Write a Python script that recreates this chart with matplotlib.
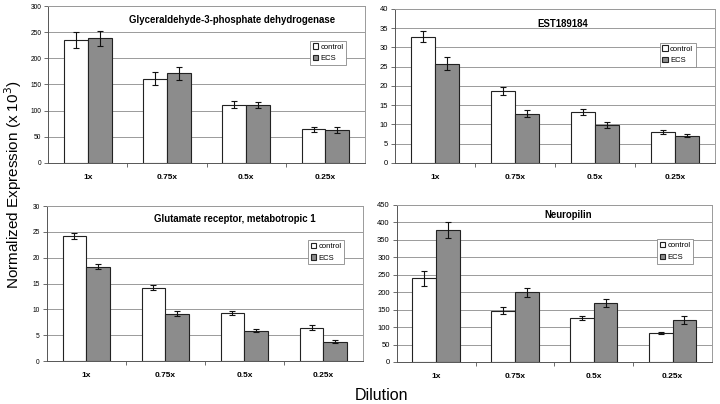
import matplotlib.pyplot as plt
import numpy as np

plt.rcParams['font.family'] = ['Liberation Sans', 'DejaVu Sans']

dilutions = ["1x", "0.75x", "0.5x", "0.25x"]

gapdh_ctrl = [235, 161, 111, 64]
gapdh_ctrl_err = [16, 12, 7, 5]
gapdh_ecs = [238, 171, 111, 63]
gapdh_ecs_err = [15, 12, 6, 5]

est_ctrl = [32.8, 18.6, 13.2, 8.0]
est_ctrl_err = [1.5, 1.1, 0.7, 0.4]
est_ecs = [25.8, 12.8, 9.9, 7.0]
est_ecs_err = [1.7, 1.0, 0.8, 0.4]

glu_ctrl = [24.2, 14.2, 9.35, 6.5]
glu_ctrl_err = [0.6, 0.45, 0.4, 0.4]
glu_ecs = [18.3, 9.2, 5.9, 3.8]
glu_ecs_err = [0.5, 0.55, 0.3, 0.2]

neu_ctrl = [240, 147, 127, 83]
neu_ctrl_err = [21, 10, 6, 4]
neu_ecs = [377, 200, 169, 121]
neu_ecs_err = [23, 13, 12, 12]

panels = [
    # title, ctrl, ctrl err, ecs, ecs err, ymax, ystep, rect, title pos, tick size
    ("Glyceraldehyde-3-phosphate dehydrogenase", gapdh_ctrl, gapdh_ctrl_err,
     gapdh_ecs, gapdh_ecs_err, 300, 50, [0.067, 0.597, 0.440, 0.388], (0.58, 0.91), 4.8),
    ("EST189184", est_ctrl, est_ctrl_err, est_ecs, est_ecs_err,
     40, 5, [0.549, 0.597, 0.444, 0.381], (0.525, 0.905), 5.5),
    ("Glutamate receptor, metabotropic 1", glu_ctrl, glu_ctrl_err,
     glu_ecs, glu_ecs_err, 30, 5, [0.065, 0.106, 0.439, 0.384], (0.595, 0.915), 4.8),
    ("Neuropilin", neu_ctrl, neu_ctrl_err, neu_ecs, neu_ecs_err,
     450, 50, [0.551, 0.104, 0.438, 0.389], (0.543, 0.935), 5.5),
]

fig = plt.figure(figsize=(7.2, 4.04), dpi=100)
x = np.arange(len(dilutions))
w = 0.3

for title, c, ce, e, ee, ymax, ystep, rect, tpos, tsize in panels:
    ax = fig.add_axes(rect)
    ax.bar(x - w / 2, c, w, color="white", edgecolor="#222222", linewidth=0.8,
           label="control", zorder=3)
    ax.bar(x + w / 2, e, w, color="#8c8c8c", edgecolor="#222222", linewidth=0.8,
           label="ECS", zorder=3)
    ax.errorbar(x - w / 2, c, yerr=ce, fmt="none", ecolor="#111111",
                elinewidth=0.8, capsize=2.5, capthick=0.8, zorder=4)
    ax.errorbar(x + w / 2, e, yerr=ee, fmt="none", ecolor="#111111",
                elinewidth=0.8, capsize=2.5, capthick=0.8, zorder=4)

    ax.set_xlim(-0.5, len(dilutions) - 0.5)
    ax.set_ylim(0, ymax)
    ax.set_yticks(np.arange(0, ymax + 1e-9, ystep))
    ax.tick_params(axis="y", labelsize=tsize, length=3, width=0.6,
                   color="#555555", pad=2)
    ax.yaxis.grid(True, color="#9a9a9a", linewidth=0.7, zorder=0)

    ax.set_xticks(np.arange(0.5, len(dilutions) - 0.5, 1.0))
    ax.set_xticklabels([])
    ax.tick_params(axis="x", which="major", length=3, width=0.6, color="#555555")
    ax.set_xticks(x, minor=True)
    ax.set_xticklabels(dilutions, minor=True, fontsize=6, fontweight="bold")
    ax.tick_params(axis="x", which="minor", length=0, pad=8)

    for s in ["top", "right"]:
        ax.spines[s].set_color("#9a9a9a")
        ax.spines[s].set_linewidth(0.7)
    for s in ["left", "bottom"]:
        ax.spines[s].set_color("#555555")
        ax.spines[s].set_linewidth(0.7)

    ax.text(tpos[0], tpos[1], title, transform=ax.transAxes, ha="center",
            va="center", fontsize=6.9, fontweight="bold")

    leg = ax.legend(loc="upper right", bbox_to_anchor=(0.945, 0.79),
                    fontsize=5.5, handlelength=0.7, handleheight=0.7,
                    handletextpad=0.3, borderpad=0.35, labelspacing=0.55,
                    borderaxespad=0.2, fancybox=False, framealpha=1,
                    edgecolor="#888888")
    leg.get_frame().set_linewidth(0.6)

fig.text(0.018, 0.542, "Normalized Expression (x 10$^3$)", rotation=90,
         ha="center", va="center", fontsize=11)
fig.text(0.53, 0.022, "Dilution", ha="center", va="center", fontsize=11.5)

fig.savefig("out.png", dpi=100)
